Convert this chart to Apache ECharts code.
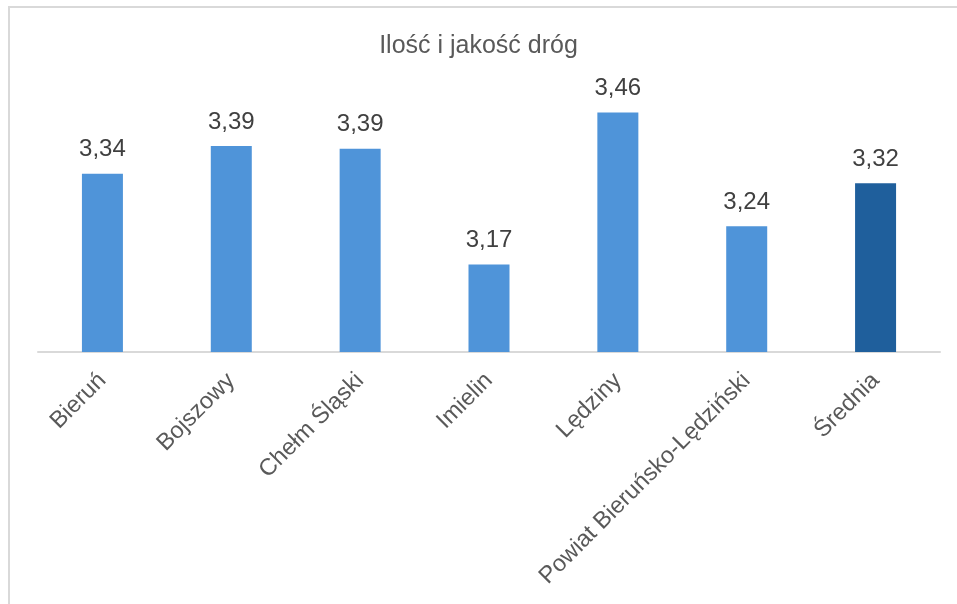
<!DOCTYPE html>
<html><head><meta charset="utf-8">
<script src="https://cdn.jsdelivr.net/npm/echarts@6/dist/echarts.min.js"></script>
<style>
html,body{margin:0;padding:0;background:#fff;overflow:hidden}
#frame{position:absolute;left:8px;top:6px;width:960px;height:610px;border:2px solid #d9d9d9;box-sizing:border-box}
#c{position:absolute;left:0;top:0;width:957px;height:604px}
</style></head><body>
<div id="frame"></div>
<div id="c"></div>
<script>
const categories = ['Bieruń','Bojszowy','Chełm Śląski','Imielin','Lędziny','Powiat Bieruńsko-Lędziński','Średnia'];
const values = [3.34, 3.393, 3.388, 3.167, 3.457, 3.24, 3.322];
const title = 'Ilość i jakość dróg';

const chart = echarts.init(document.getElementById('c'));
const font = 'Liberation Sans, Arial, sans-serif';
chart.setOption({
  animation:false,
  title:{text:title,left:'center',top:29,textStyle:{fontFamily:font,fontSize:25,fontWeight:'normal',color:'#595959'}},
  grid:{left:38,right:17,top:90,bottom:252,containLabel:false},
  xAxis:{type:'category',data:categories,
    axisLine:{lineStyle:{color:'#d9d9d9',width:2}},axisTick:{show:false},
    axisLabel:{rotate:45,interval:0,fontFamily:font,fontSize:23.5,color:'#595959',margin:25}},
  yAxis:{type:'value',min:3,max:3.5,show:false,splitLine:{show:false}},
  series:[{type:'bar',barWidth:41,
    data:values.map((v,i)=>({value:v,itemStyle:{color:i===values.length-1?'#1f5f9c':'#4f94d9'}})),
    label:{show:true,position:'top',distance:12,fontFamily:font,fontSize:24,color:'#404040',
      formatter:p=>p.value.toFixed(2).replace('.',',')}}]
});
</script></body></html>
